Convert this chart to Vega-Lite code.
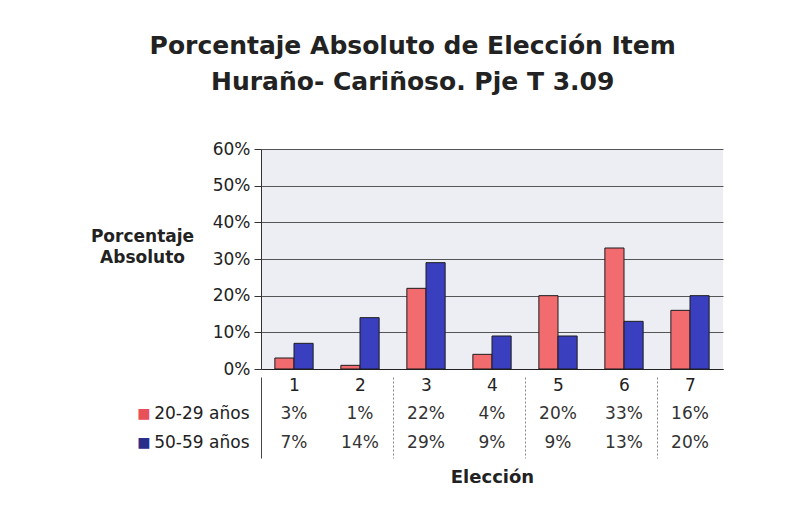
{
  "$schema": "https://vega.github.io/schema/vega-lite/v6.json",
  "background": "white",
  "padding": {"left": 90, "top": 34, "right": 10, "bottom": 5},
  "title": {
    "text": ["Porcentaje Absoluto de Elección Item", "Huraño- Cariñoso. Pje T 3.09"],
    "font": "DejaVu Sans",
    "fontSize": 25,
    "fontWeight": "bold",
    "color": "#222222",
    "lineHeight": 36,
    "anchor": "middle",
    "dx": 6,
    "offset": 45
  },
  "data": {
    "values": [
      {"Elección": 1, "Serie": "20-29 años", "Porcentaje": 0.03},
      {"Elección": 2, "Serie": "20-29 años", "Porcentaje": 0.01},
      {"Elección": 3, "Serie": "20-29 años", "Porcentaje": 0.22},
      {"Elección": 4, "Serie": "20-29 años", "Porcentaje": 0.04},
      {"Elección": 5, "Serie": "20-29 años", "Porcentaje": 0.20},
      {"Elección": 6, "Serie": "20-29 años", "Porcentaje": 0.33},
      {"Elección": 7, "Serie": "20-29 años", "Porcentaje": 0.16},
      {"Elección": 1, "Serie": "50-59 años", "Porcentaje": 0.07},
      {"Elección": 2, "Serie": "50-59 años", "Porcentaje": 0.14},
      {"Elección": 3, "Serie": "50-59 años", "Porcentaje": 0.29},
      {"Elección": 4, "Serie": "50-59 años", "Porcentaje": 0.09},
      {"Elección": 5, "Serie": "50-59 años", "Porcentaje": 0.09},
      {"Elección": 6, "Serie": "50-59 años", "Porcentaje": 0.13},
      {"Elección": 7, "Serie": "50-59 años", "Porcentaje": 0.20}
    ]
  },
  "spacing": -5,
  "resolve": {"scale": {"x": "independent", "y": "independent", "color": "independent"}},
  "vconcat": [
    {
      "width": 462,
      "height": 220,
      "view": {"fill": "#eceef4", "stroke": null},
      "mark": {"type": "bar", "stroke": "#1c1c1c", "strokeWidth": 1},
      "encoding": {
        "x": {
          "field": "Elección",
          "type": "ordinal",
          "scale": {"paddingInner": 0.42, "paddingOuter": 0.21},
          "axis": {"labels": false, "ticks": false, "title": null, "domainColor": "#222222", "grid": false}
        },
        "xOffset": {"field": "Serie", "type": "nominal"},
        "y": {
          "field": "Porcentaje",
          "type": "quantitative",
          "scale": {"domain": [0, 0.6]},
          "axis": {
            "format": ".0%",
            "values": [0, 0.1, 0.2, 0.3, 0.4, 0.5, 0.6],
            "grid": true,
            "gridColor": "#555555",
            "gridWidth": 1,
            "domainColor": "#333333",
            "tickColor": "#333333",
            "tickSize": 7,
            "labelPadding": 4,
            "labelFontSize": 17,
            "labelColor": "#222222",
            "title": ["Porcentaje", "Absoluto"],
            "titleAngle": 0,
            "titleAlign": "center",
            "titleBaseline": "top",
            "titleX": -119,
            "titleY": 79,
            "titleFontSize": 17,
            "titleFontWeight": "bold",
            "titleLineHeight": 21,
            "titleColor": "#222222"
          }
        },
        "color": {
          "field": "Serie",
          "type": "nominal",
          "scale": {"domain": ["20-29 años", "50-59 años"], "range": ["#f26b6f", "#3a3fbf"]},
          "legend": null
        }
      }
    },
    {
      "width": 462,
      "height": 81,
      "view": {"stroke": null},
      "resolve": {"axis": {"x": "independent", "y": "independent"}},
      "layer": [
        {
          "mark": {"type": "text", "fontSize": 17, "color": "#333333"},
          "encoding": {
            "x": {
              "field": "Elección",
              "type": "ordinal",
              "scale": {"type": "band", "paddingInner": 0, "paddingOuter": 0},
              "axis": {
                "orient": "top",
                "offset": -19,
                "labelPadding": 2,
                "labelAngle": 0,
                "labelFontSize": 17,
                "labelColor": "#222222",
                "ticks": false,
                "domain": false,
                "title": null,
                "grid": true,
                "tickBand": "extent",
                "gridColor": "#888888",
                "gridDash": [2, 2],
                "gridOpacity": {"condition": {"test": "datum.value % 2 == 0", "value": 1}, "value": 0}
              }
            },
            "y": {
              "field": "Serie",
              "type": "nominal",
              "scale": {"type": "band", "paddingInner": 0, "paddingOuter": 0.373, "align": 1},
              "axis": {
                "title": null,
                "ticks": false,
                "labelPadding": 12,
                "labelFontSize": 17,
                "labelColor": "#222222",
                "domain": true,
                "domainColor": "#444444"
              }
            },
            "text": {"field": "Porcentaje", "type": "quantitative", "format": ".0%"}
          }
        },
        {
          "mark": {"type": "point", "opacity": 0},
          "encoding": {
            "x": {
              "field": "Elección",
              "type": "ordinal",
              "axis": {
                "orient": "bottom",
                "labels": false,
                "ticks": false,
                "domain": false,
                "grid": false,
                "title": "Elección",
                "titleFontSize": 18,
                "titleFontWeight": "bold",
                "titleColor": "#222222",
                "titlePadding": 10
              }
            },
            "y": {
              "field": "Serie",
              "type": "nominal",
              "axis": {
                "orient": "left",
                "title": null,
                "ticks": false,
                "domain": false,
                "grid": false,
                "labelExpr": "'■'",
                "labelFontSize": 14,
                "labelPadding": 111,
                "labelColor": {"condition": {"test": "datum.value == '20-29 años'", "value": "#e8505a"}, "value": "#2c2f8a"}
              }
            }
          }
        }
      ]
    }
  ],
  "config": {
    "font": "DejaVu Sans",
    "axis": {"labelFont": "DejaVu Sans", "titleFont": "DejaVu Sans"}
  }
}
